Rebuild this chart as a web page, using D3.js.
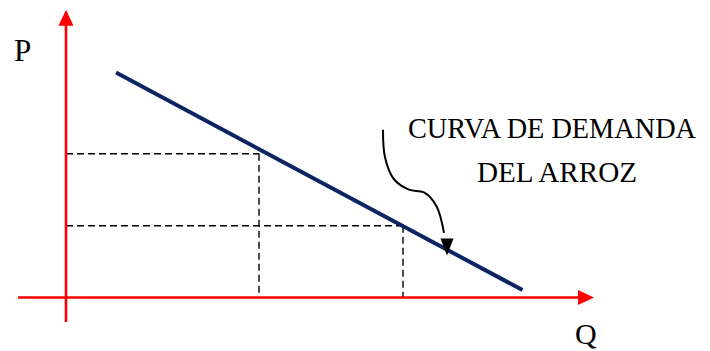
<!DOCTYPE html>
<html>
<head>
<meta charset="utf-8">
<script src="https://cdn.jsdelivr.net/npm/d3@7"></script>
<style>
  html, body { margin: 0; padding: 0; background: #fff; }
  svg { display: block; }
</style>
</head>
<body>
<svg id="chart" width="710" height="351"></svg>
<script>
/* global d3 */

// demand line end points (quantity, price) in abstract units
let demand = [{q: 10, p: 81.8}, {q: 91.3, p: 2.7}]
// two points, with dashed guides to the axes
let points = [{q: 38.6, p: 52.3}, {q: 67.4, p: 26.1}]
// axis extent (start, end) in data units, arrow tips at the end
let xAxisExtent = [-9.6, 105.6]
let yAxisExtent = [-8.9, 104.6]
// hand drawn pointer from the label to the curve
let pointer = [
  {q: 63.4, p: 61.0}, {q: 63.8, p: 51.0}, {q: 65.6, p: 43.0},
  {q: 68.6, p: 39.2}, {q: 71.6, p: 38.2}, {q: 74.1, p: 33.2},
  {q: 75.6, p: 23.5}
]
let pointerTip = {q: 76.2, p: 15.3}
let labelLines = ['CURVA DE DEMANDA', 'DEL ARROZ']

let svg = d3.select('#chart')
let x = d3.scaleLinear().domain([0, 100]).range([66, 566])
let y = d3.scaleLinear().domain([0, 100]).range([297.5, 22.5])

let red = '#ff0000'
let navy = '#0c2461'
let serif = '"Liberation Serif", "DejaVu Serif", serif'

// dashed guides
let guides = svg.append('g')
  .attr('fill', 'none')
  .attr('stroke', '#000')
  .attr('stroke-width', 1.4)
  .attr('stroke-dasharray', '7,4')
points.forEach(function (d) {
  guides.append('line')
    .attr('x1', x(0)).attr('y1', y(d.p))
    .attr('x2', x(d.q)).attr('y2', y(d.p))
  guides.append('line')
    .attr('x1', x(d.q)).attr('y1', y(d.p))
    .attr('x2', x(d.q)).attr('y2', y(0))
})

// axes
svg.append('line')
  .attr('x1', x(xAxisExtent[0])).attr('y1', y(0))
  .attr('x2', x(xAxisExtent[1]) - 14).attr('y2', y(0))
  .attr('stroke', red)
  .attr('stroke-width', 2.6)
svg.append('path')
  .attr('d', function () {
    let tx = x(xAxisExtent[1])
    let ty = y(0)
    return 'M' + tx + ',' + ty + 'L' + (tx - 16) + ',' + (ty - 7.5) + 'L' + (tx - 16) + ',' + (ty + 7.5) + 'Z'
  })
  .attr('fill', red)
svg.append('line')
  .attr('x1', x(0)).attr('y1', y(yAxisExtent[0]))
  .attr('x2', x(0)).attr('y2', y(yAxisExtent[1]) + 14)
  .attr('stroke', red)
  .attr('stroke-width', 2.6)
svg.append('path')
  .attr('d', function () {
    let tx = x(0)
    let ty = y(yAxisExtent[1])
    return 'M' + tx + ',' + ty + 'L' + (tx - 7.5) + ',' + (ty + 16) + 'L' + (tx + 7.5) + ',' + (ty + 16) + 'Z'
  })
  .attr('fill', red)

// demand curve
svg.append('path')
  .datum(demand)
  .attr('d', d3.line().x(d => x(d.q)).y(d => y(d.p)))
  .attr('fill', 'none')
  .attr('stroke', navy)
  .attr('stroke-width', 4)

// pointer
svg.append('path')
  .datum(pointer)
  .attr('d', d3.line().x(d => x(d.q)).y(d => y(d.p)).curve(d3.curveCatmullRom))
  .attr('fill', 'none')
  .attr('stroke', '#000')
  .attr('stroke-width', 2)
svg.append('path')
  .attr('d', function () {
    let tx = x(pointerTip.q)
    let ty = y(pointerTip.p)
    return 'M' + tx + ',' + ty + 'L' + (tx - 6.5) + ',' + (ty - 17) + 'L' + (tx + 6.5) + ',' + (ty - 17) + 'Z'
  })
  .attr('fill', '#000')

// axis names
svg.append('text')
  .text('P')
  .attr('x', 14)
  .attr('y', 61)
  .style('font-family', serif)
  .style('font-size', '31px')
  .attr('fill', '#000')
svg.append('text')
  .text('Q')
  .attr('x', 575)
  .attr('y', 344)
  .style('font-family', serif)
  .style('font-size', '30px')
  .attr('fill', '#000')

// label
let widths = [288, 160]
labelLines.forEach(function (t, i) {
  svg.append('text')
    .text(t)
    .attr('x', i === 0 ? 408 : 477)
    .attr('y', i === 0 ? 138 : 182)
    .attr('textLength', widths[i])
    .attr('lengthAdjust', 'spacingAndGlyphs')
    .style('font-family', serif)
    .style('font-size', '28.5px')
    .attr('fill', '#000')
})
</script>
</body>
</html>
